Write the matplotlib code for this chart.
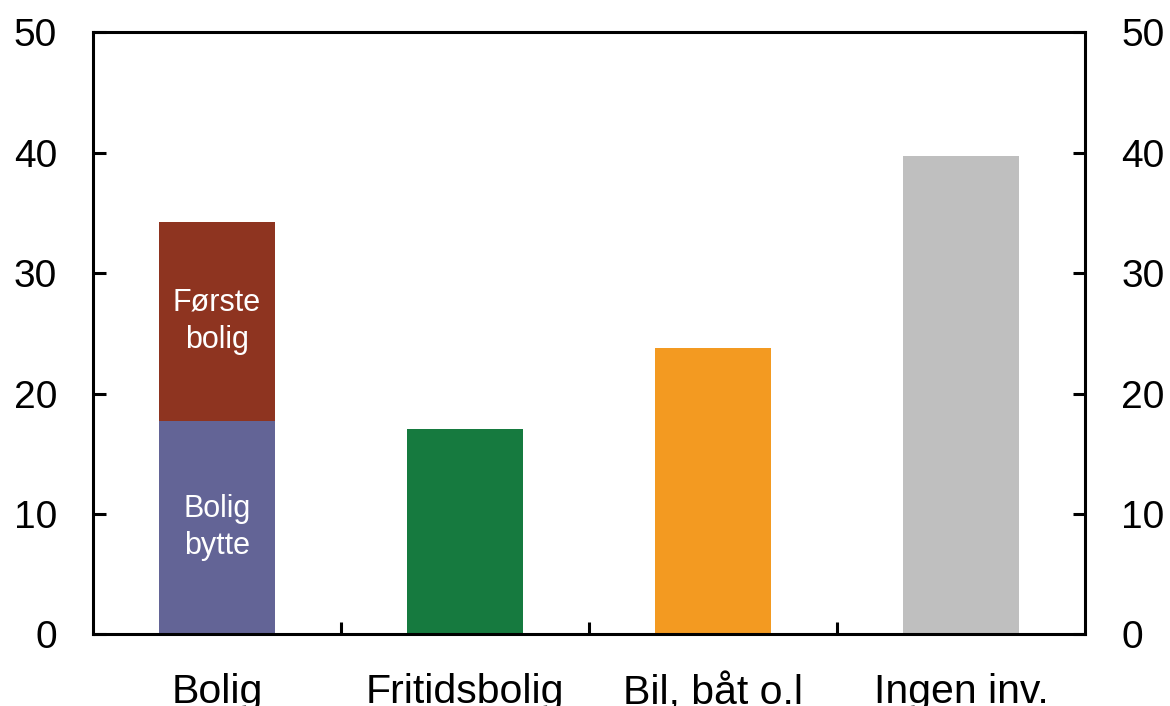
import matplotlib
matplotlib.use("Agg")
import matplotlib.pyplot as plt
import numpy as np

plt.rcParams["font.family"] = ["Liberation Sans", "DejaVu Sans"]

# Andel (prosent) per investeringstype
categories = ["Bolig", "Fritidsbolig", "Bil, båt o.l", "Ingen inv."]
bolig_bytte = 17.7
forste_bolig = 16.6
others = [17.1, 23.8, 39.7]          # Fritidsbolig, Bil/båt, Ingen inv.
other_colors = ["#167A3F", "#F39A21", "#BFBFBF"]

y_ticks = [0, 10, 20, 30, 40, 50]

fig = plt.figure(figsize=(11.7, 7.06), dpi=100)
ax = fig.add_axes([0.0795, 0.1013, 0.848, 0.8527])

x = np.arange(len(categories))
width = 0.465

ax.bar(x[0], bolig_bytte, width, color="#636496")
ax.bar(x[0], forste_bolig, width, bottom=bolig_bytte, color="#8E3420")
ax.bar(x[1:], others, width, color=other_colors)

ax.text(x[0], bolig_bytte / 2, "Bolig\nbytte", color="white", fontsize=22,
        ha="center", va="center", linespacing=1.3)
ax.text(x[0], bolig_bytte + forste_bolig / 2, "Første\nbolig", color="white",
        fontsize=22, ha="center", va="center", linespacing=1.3)

ax.set_xlim(-0.5, len(categories) - 0.5)
ax.set_ylim(0, 50)

ax.set_yticks(y_ticks)
ax.tick_params(axis="y", which="both", direction="in", length=9, width=2.2,
               labelsize=28, pad=26, left=True, right=True,
               labelleft=True, labelright=True)

ax.set_xticks(x)
ax.set_xticklabels(categories)
ax.set_xticks(x[:-1] + 0.5, minor=True)
ax.tick_params(axis="x", which="major", length=0, labelsize=29.5, pad=28)
ax.tick_params(axis="x", which="minor", direction="in", length=9, width=2.2)

for sp in ax.spines.values():
    sp.set_linewidth(2.2)

fig.savefig("out.png", dpi=100)
